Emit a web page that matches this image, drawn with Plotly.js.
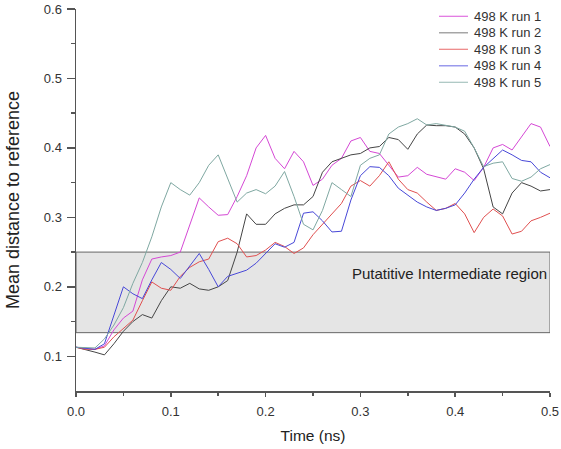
<!DOCTYPE html>
<html>
<head>
<meta charset="utf-8">
<script src="https://cdn.plot.ly/plotly-3.0.1.min.js"></script>
<style>html,body{margin:0;padding:0;background:#fff;}#chart{width:561px;height:449px;}</style>
</head>
<body>
<div id="chart"></div>
<script>
var time = [0,0.01,0.02,0.03,0.04,0.05,0.06,0.07,0.08,0.09,0.10,0.11,0.12,0.13,0.14,0.15,0.16,0.17,0.18,0.19,0.20,0.21,0.22,0.23,0.24,0.25,0.26,0.27,0.28,0.29,0.30,0.31,0.32,0.33,0.34,0.35,0.36,0.37,0.38,0.39,0.40,0.41,0.42,0.43,0.44,0.45,0.46,0.47,0.48,0.49,0.50];
var run1 = [0.113,0.112,0.110,0.115,0.138,0.155,0.165,0.210,0.240,0.243,0.245,0.250,0.290,0.328,0.315,0.303,0.304,0.330,0.360,0.400,0.418,0.385,0.370,0.395,0.380,0.346,0.355,0.375,0.385,0.410,0.415,0.395,0.392,0.375,0.358,0.360,0.372,0.362,0.358,0.355,0.370,0.365,0.353,0.372,0.400,0.405,0.397,0.416,0.435,0.430,0.402];
var run2 = [0.113,0.110,0.106,0.102,0.118,0.136,0.150,0.160,0.155,0.180,0.200,0.198,0.205,0.197,0.195,0.200,0.209,0.250,0.305,0.290,0.290,0.305,0.313,0.318,0.318,0.330,0.365,0.380,0.385,0.390,0.392,0.400,0.402,0.415,0.412,0.398,0.420,0.433,0.432,0.432,0.430,0.420,0.400,0.370,0.315,0.305,0.335,0.350,0.345,0.338,0.340];
var run3 = [0.113,0.110,0.110,0.113,0.128,0.140,0.152,0.180,0.207,0.198,0.195,0.215,0.228,0.236,0.240,0.265,0.270,0.262,0.243,0.245,0.253,0.264,0.258,0.248,0.256,0.275,0.290,0.305,0.320,0.345,0.353,0.345,0.360,0.380,0.355,0.340,0.335,0.322,0.310,0.313,0.320,0.305,0.278,0.300,0.312,0.302,0.276,0.280,0.295,0.300,0.306];
var run4 = [0.113,0.112,0.110,0.118,0.158,0.200,0.190,0.183,0.210,0.235,0.225,0.212,0.230,0.248,0.225,0.200,0.215,0.219,0.224,0.234,0.248,0.262,0.257,0.264,0.306,0.308,0.295,0.279,0.280,0.325,0.360,0.373,0.372,0.360,0.342,0.332,0.322,0.315,0.310,0.313,0.318,0.335,0.355,0.372,0.385,0.397,0.390,0.382,0.380,0.365,0.357];
var run5 = [0.113,0.112,0.112,0.125,0.145,0.170,0.205,0.235,0.272,0.315,0.350,0.340,0.332,0.350,0.375,0.390,0.355,0.322,0.335,0.340,0.334,0.345,0.366,0.330,0.290,0.282,0.310,0.350,0.340,0.330,0.375,0.385,0.390,0.420,0.430,0.435,0.442,0.433,0.435,0.432,0.430,0.424,0.400,0.373,0.378,0.380,0.356,0.352,0.358,0.370,0.376];
var seriesNames = ['498 K run 1','498 K run 2','498 K run 3','498 K run 4','498 K run 5'];
var seriesColors = ['#d548d5','#454545','#e05050','#4848d8','#7fa8a2'];
var legendColors = ['#e070e0','#909090','#ec8080','#8080e8','#a8c4c0'];
var regionBounds = [0.134, 0.25];
var regionLabel = 'Putatitive Intermediate region';

var allRuns = [run1, run2, run3, run4, run5];
var traces = allRuns.map(function(v, i){
  return {x: time, y: v, type: 'scatter', mode: 'lines', name: seriesNames[i],
          line: {color: seriesColors[i], width: 1}};
});

var fam = 'Liberation Sans, Arial, sans-serif';
var axisFont = {family: fam, size: 13, color: '#333'};

// legend drawn in paper coordinates (plot area: 76..550 px wide, 9..391 px tall)
var shapes = [{type: 'rect', xref: 'x', yref: 'y', x0: 0, x1: 0.5, y0: regionBounds[0], y1: regionBounds[1],
            fillcolor: '#e5e5e5', line: {color: '#666', width: 1}, layer: 'below'}];
var annotations = [{xref: 'x', yref: 'y', x: 0.3945, y: 0.2196, text: regionLabel, showarrow: false,
                 font: {family: fam, size: 15, color: '#222'}}];
seriesNames.forEach(function(n, i){
  var py = 16.3 + i * 16.5;
  var yp = (391 - py) / 382;
  shapes.push({type: 'line', xref: 'paper', yref: 'paper', x0: (439-76)/474, x1: (468-76)/474, y0: yp, y1: yp,
               line: {color: legendColors[i], width: 1.2}});
  annotations.push({xref: 'paper', yref: 'paper', x: (472-76)/474, y: yp, xanchor: 'left', yanchor: 'middle',
                    text: n, showarrow: false, font: {family: fam, size: 13, color: '#333'}});
});

var layout = {
  width: 561, height: 449,
  margin: {l: 76, r: 11, t: 9, b: 58},
  paper_bgcolor: '#fff', plot_bgcolor: '#fff',
  font: {family: fam, color: '#222'},
  showlegend: false,
  xaxis: {range: [0, 0.5], tickvals: [0,0.1,0.2,0.3,0.4,0.5], tickformat: '.1f',
          showgrid: false, zeroline: false, showline: true, linecolor: '#555', linewidth: 1.5,
          ticks: 'outside', ticklen: 4, tickwidth: 1.5, tickcolor: '#555', tickfont: axisFont,
          ticklabelstandoff: 4,
          minor: {tickvals: [0.05,0.15,0.25,0.35,0.45], ticks: 'outside', ticklen: 3, tickcolor: '#555', tickwidth: 1.5},
          title: {text: 'Time (ns)', font: {family: fam, size: 15.5, color: '#222'}, standoff: 12}},
  yaxis: {range: [0.05, 0.6], tickvals: [0.1,0.2,0.3,0.4,0.5,0.6], tickformat: '.1f',
          showgrid: false, zeroline: false, showline: true, linecolor: '#555', linewidth: 1.5,
          ticks: 'outside', ticklen: 8, tickwidth: 1.5, tickcolor: '#555', tickfont: axisFont,
          ticklabelstandoff: 2,
          minor: {tickvals: [0.15,0.25,0.35,0.45,0.55], ticks: 'outside', ticklen: 4, tickcolor: '#555', tickwidth: 1.5},
          title: {text: 'Mean distance to reference', font: {family: fam, size: 18, color: '#222'}, standoff: 19}},
  shapes: shapes,
  annotations: annotations
};
Plotly.newPlot('chart', traces, layout, {displayModeBar: false, staticPlot: true});
</script>
</body>
</html>
